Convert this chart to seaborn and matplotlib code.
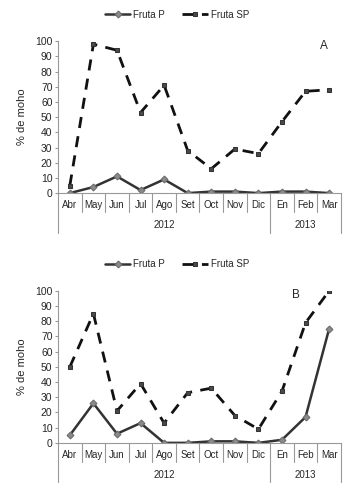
import pandas as pd
import matplotlib
matplotlib.use('Agg')
import matplotlib.pyplot as plt
import matplotlib.transforms as mtransforms
import seaborn as sns

# Data
meses = ['Abr', 'May', 'Jun', 'Jul', 'Ago', 'Set', 'Oct', 'Nov', 'Dic', 'En', 'Feb', 'Mar']
anios = ['2012'] * 9 + ['2013'] * 3

a_fruta_p = [0, 4, 11, 2, 9, 0, 1, 1, 0, 1, 1, 0]
a_fruta_sp = [5, 98, 94, 53, 71, 28, 16, 29, 26, 47, 67, 68]

b_fruta_p = [5, 26, 6, 13, 0, 0, 1, 1, 0, 2, 17, 75]
b_fruta_sp = [50, 85, 21, 39, 13, 33, 36, 18, 9, 34, 79, 100]

sns.set_style('white')
plt.rcParams['font.family'] = ['Liberation Sans', 'DejaVu Sans']

fig = plt.figure(figsize=(3.54, 4.84), dpi=100)
ax_a = fig.add_axes([0.164, 0.601, 0.799, 0.314])
ax_b = fig.add_axes([0.164, 0.085, 0.799, 0.314])


def panel(ax, p, sp, letra, letra_x):
    df = pd.DataFrame({'idx': list(range(len(meses))) * 2,
                       'val': p + sp,
                       'serie': ['Fruta P'] * len(p) + ['Fruta SP'] * len(sp)})
    sns.lineplot(data=df[df.serie == 'Fruta P'], x='idx', y='val', ax=ax,
                 color='#333333', lw=1.8, marker='D', markersize=3.5,
                 markerfacecolor='#8a8a8a', markeredgecolor='#6a6a6a',
                 label='Fruta P')
    sns.lineplot(data=df[df.serie == 'Fruta SP'], x='idx', y='val', ax=ax,
                 color='#111111', lw=2.0, marker='s', markersize=3.5,
                 markerfacecolor='#4a4a4a', markeredgecolor='#333333',
                 label='Fruta SP')
    ax.lines[1].set_dashes([4, 3])

    ax.set_xlim(-0.5, len(meses) - 0.5)
    ax.set_ylim(0, 100)
    ax.set_yticks(range(0, 101, 10))
    ax.tick_params(axis='y', labelsize=7.5, length=2, color='#999999', pad=2, left=True)
    ax.set_xticks(range(len(meses)))
    ax.set_xticklabels(meses, fontsize=7)
    ax.tick_params(axis='x', length=0, pad=5)
    ax.set_xlabel('')
    ax.set_ylabel('% de moho', fontsize=8, labelpad=6)
    for s in ['top', 'right']:
        ax.spines[s].set_visible(False)
    ax.spines['left'].set_color('#999999')
    ax.spines['bottom'].set_color('#999999')
    ax.spines['left'].set_linewidth(0.8)
    ax.spines['bottom'].set_linewidth(0.8)

    # separators under the category axis
    trans = mtransforms.blended_transform_factory(ax.transData, ax.transAxes)
    for i in range(len(meses) + 1):
        borde = i == 0 or i == len(meses) or anios[i - 1] != anios[i]
        y_fin = -0.26 if borde else -0.125
        ax.plot([i - 0.5, i - 0.5], [0, y_fin], transform=trans, clip_on=False,
                color='#999999', lw=0.8)
    for anio in sorted(set(anios)):
        pos = [i for i, a in enumerate(anios) if a == anio]
        ax.text(sum(pos) / len(pos), -0.21, anio, transform=trans,
                ha='center', va='center', fontsize=7)

    ax.text(letra_x, 0.97, letra, transform=ax.transAxes, ha='center',
            va='center', fontsize=8.5)
    ax.legend(loc='center', bbox_to_anchor=(0.42, 1.175), ncol=2,
              frameon=False, fontsize=7, handlelength=2.6,
              columnspacing=1.8, handletextpad=0.3)


panel(ax_a, a_fruta_p, a_fruta_sp, 'A', 0.94)
panel(ax_b, b_fruta_p, b_fruta_sp, 'B', 0.84)

fig.savefig('out.png', dpi=100)
